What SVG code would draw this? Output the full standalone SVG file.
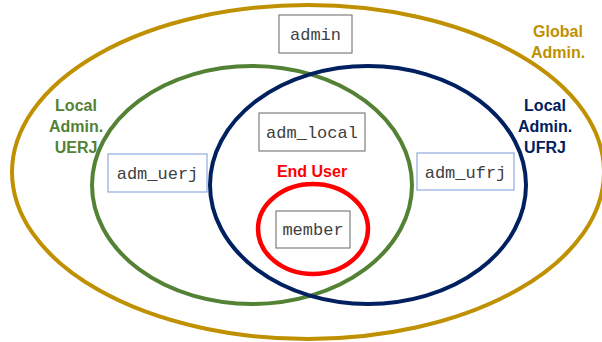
<svg xmlns="http://www.w3.org/2000/svg" width="602" height="342" viewBox="0 0 602 342">
<style>
.ring{fill:none;stroke-width:4}
.box{fill:#fff;stroke:#7f7f7f;stroke-width:1.2}
.boxb{fill:#fff;stroke:#8faadc;stroke-width:1.2}
.code{font-family:"Liberation Mono","DejaVu Sans Mono",monospace;font-size:17px;fill:#404040;text-anchor:middle}
.lbl{font-family:"Liberation Sans",Arial,sans-serif;font-weight:bold;font-size:16px;text-anchor:middle}
</style>
<rect width="602" height="342" fill="#fff"/>
<g id="connectors"></g>
<g id="global">
<ellipse class="ring" cx="308" cy="172" rx="296" ry="167" stroke="#bf9000"/>
<text class="lbl" fill="#bf9000"><tspan x="558" y="37">Global</tspan><tspan x="558" y="58">Admin.</tspan></text>
</g>
<g id="uerj">
<ellipse class="ring" cx="252" cy="185" rx="160" ry="119" stroke="#548235"/>
<text class="lbl" fill="#548235"><tspan x="76" y="111">Local</tspan><tspan x="76" y="132">Admin.</tspan><tspan x="76" y="153">UERJ</tspan></text>
</g>
<g id="ufrj">
<ellipse class="ring" cx="368" cy="185" rx="158" ry="119" stroke="#002060"/>
<text class="lbl" fill="#002060"><tspan x="545" y="111">Local</tspan><tspan x="545" y="132">Admin.</tspan><tspan x="545" y="153">UFRJ</tspan></text>
</g>
<g id="enduser">
<ellipse cx="313" cy="229" rx="55" ry="45" fill="none" stroke="#ff0000" stroke-width="4.5"/>
<text class="lbl" fill="#ff0000" x="312" y="177">End User</text>
</g>
<g id="admin">
<rect class="box" x="279" y="15" width="73" height="38"/>
<text class="code" x="315.5" y="40">admin</text>
</g>
<g id="adm_uerj">
<rect class="boxb" x="108" y="154" width="99" height="38"/>
<text class="code" x="157.5" y="179">adm_uerj</text>
</g>
<g id="adm_ufrj">
<rect class="boxb" x="417" y="153" width="97" height="37"/>
<text class="code" x="465.5" y="178">adm_ufrj</text>
</g>
<g id="adm_local">
<rect class="box" x="259" y="113" width="106" height="38"/>
<text class="code" x="312" y="138">adm_local</text>
</g>
<g id="member">
<rect class="box" x="276" y="211" width="74" height="37"/>
<text class="code" x="313" y="235">member</text>
</g>
</svg>
